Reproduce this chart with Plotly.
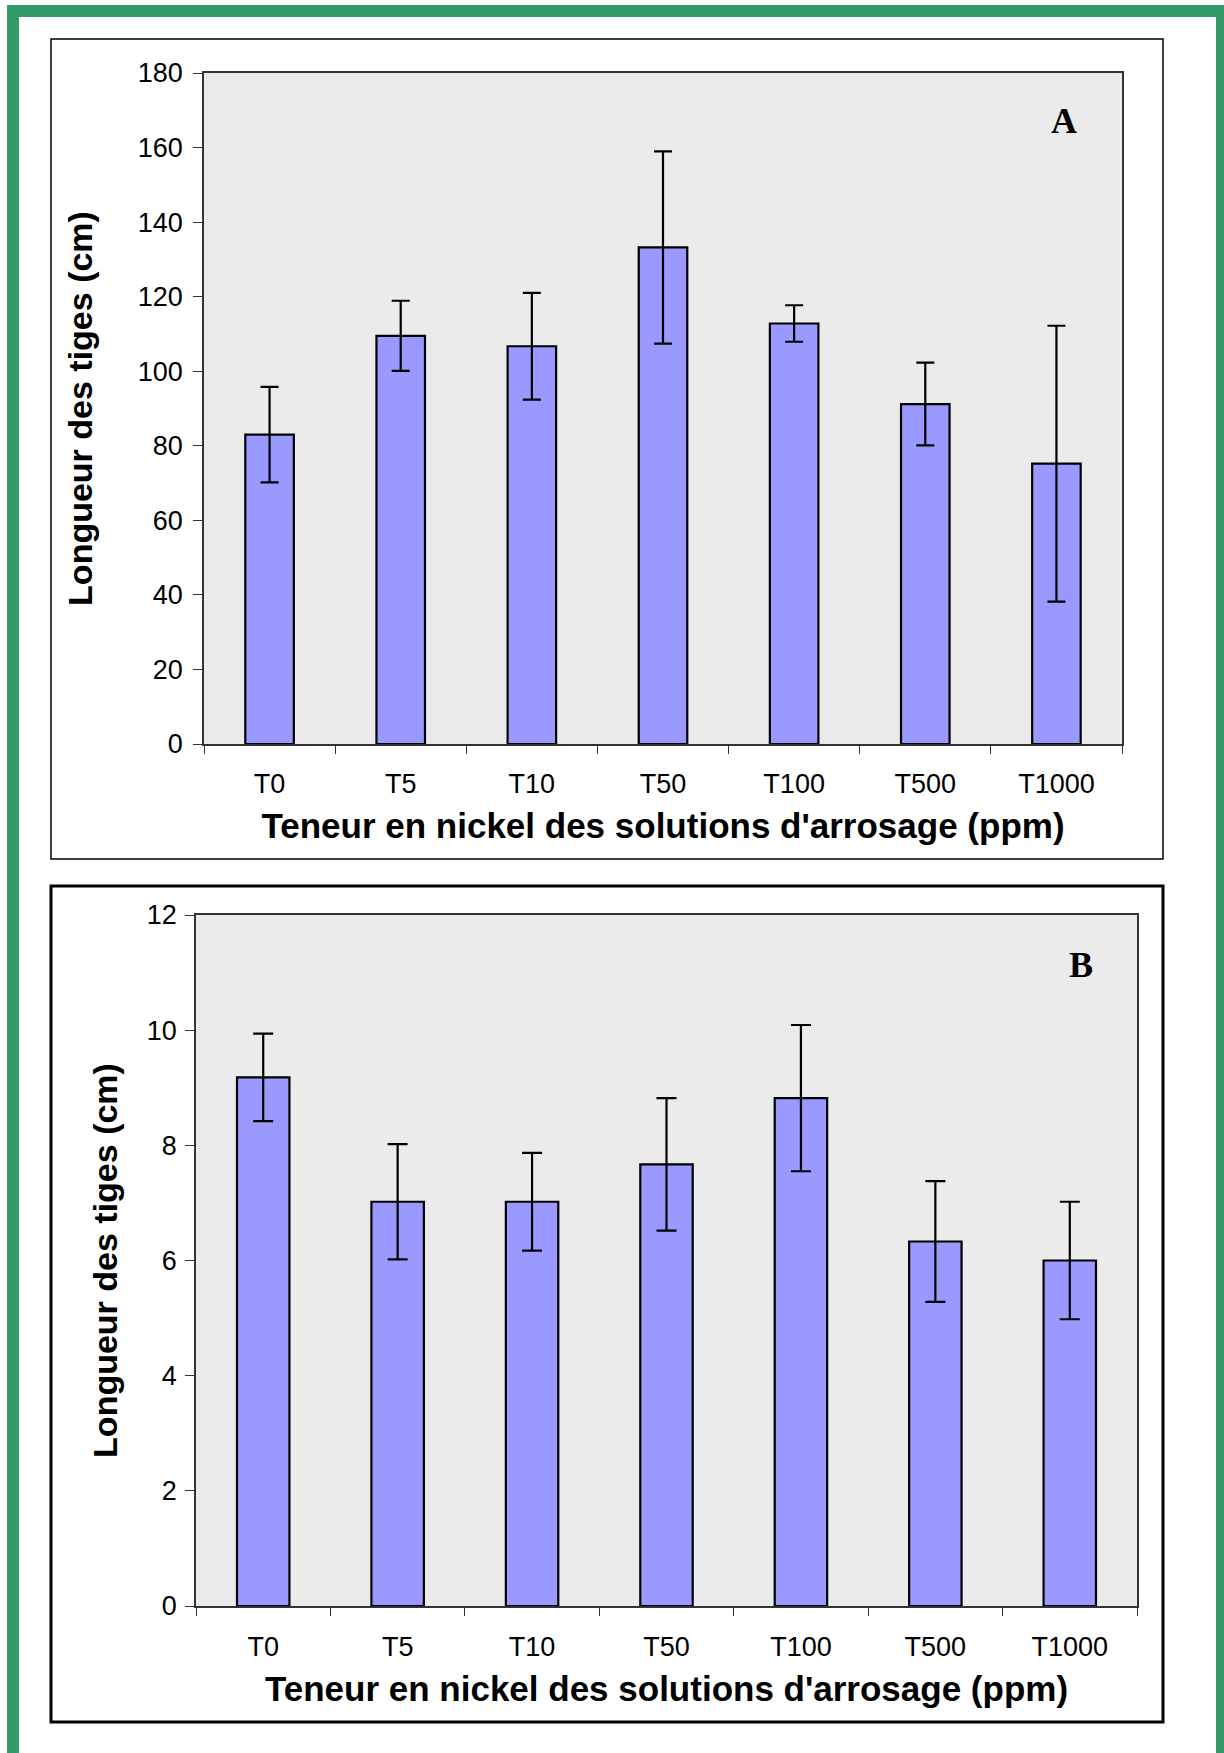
import plotly.graph_objects as go

W, H = 1224, 1753

categories = ["T0", "T5", "T10", "T50", "T100", "T500", "T1000"]
stem_A = [83.0, 109.5, 106.7, 133.2, 112.8, 91.2, 75.2]
err_A = [12.8, 9.4, 14.3, 25.8, 4.9, 11.1, 37.0]
stem_B = [9.18, 7.02, 7.02, 7.67, 8.82, 6.33, 6.00]
err_B = [0.76, 1.00, 0.85, 1.15, 1.27, 1.05, 1.02]
yticks_A = [0, 20, 40, 60, 80, 100, 120, 140, 160, 180]
yticks_B = [0, 2, 4, 6, 8, 10, 12]
x_title = "Teneur en nickel des solutions d'arrosage (ppm)"
y_title = "Longueur des tiges (cm)"

BAR = "#9999FF"
FONT = "Liberation Sans"


def px(x):
    return x / W


def py(y):
    return 1 - y / H


fig = go.Figure()
fig.add_trace(go.Bar(
    x=categories, y=stem_A, xaxis="x", yaxis="y", width=0.37,
    marker=dict(color=BAR, line=dict(color="black", width=2.2)),
    error_y=dict(type="data", array=err_A, visible=True, color="black", thickness=2.2, width=9),
    showlegend=False))
fig.add_trace(go.Bar(
    x=categories, y=stem_B, xaxis="x2", yaxis="y2", width=0.39,
    marker=dict(color=BAR, line=dict(color="black", width=2.2)),
    error_y=dict(type="data", array=err_B, visible=True, color="black", thickness=2.2, width=10),
    showlegend=False))

xcommon = dict(showline=True, linecolor="#333333", linewidth=1.5, mirror=True,
               ticks="outside", tickson="boundaries", ticklen=8, tickcolor="#333333",
               tickfont=dict(family=FONT, size=27, color="black"), showgrid=False,
               automargin=False)
ycommon = dict(showline=True, linecolor="#333333", linewidth=1.5, mirror=True,
               ticks="outside", ticklen=9, tickcolor="#333333",
               tickfont=dict(family=FONT, size=27, color="black"), showgrid=False,
               zeroline=False, automargin=False)

fig.update_layout(
    template="none",
    width=W, height=H, margin=dict(l=0, r=0, t=0, b=0, pad=0, autoexpand=False),
    paper_bgcolor="white", plot_bgcolor="#ebebeb",
    xaxis=dict(domain=[px(204), px(1122)], anchor="y", ticklabelstandoff=15,
               title=dict(text="<b>" + x_title + "</b>", standoff=15,
                          font=dict(family=FONT, size=35, color="black")),
               **xcommon),
    yaxis=dict(domain=[py(744), py(73)], anchor="x", range=[0, 180],
               tickvals=yticks_A, ticklabelstandoff=5,
               title=dict(text="<b>" + y_title + "</b>", standoff=35,
                          font=dict(family=FONT, size=34, color="black")),
               **ycommon),
    xaxis2=dict(domain=[px(196), px(1137)], anchor="y2", ticklabelstandoff=16,
                title=dict(text="<b>" + x_title + "</b>", standoff=15,
                           font=dict(family=FONT, size=35, color="black")),
                **xcommon),
    yaxis2=dict(domain=[py(1606), py(915)], anchor="x2", range=[0, 12],
                tickvals=yticks_B, ticklabelstandoff=3,
                title=dict(text="<b>" + y_title + "</b>", standoff=19,
                           font=dict(family=FONT, size=34, color="black")),
                **ycommon),
    shapes=[
        dict(type="rect", xref="paper", yref="paper",
             x0=px(13), x1=px(1222), y0=py(1765), y1=py(11),
             line=dict(color="#339966", width=12), layer="below"),
        dict(type="rect", xref="paper", yref="paper",
             x0=px(51), x1=px(1163), y0=py(859), y1=py(39),
             line=dict(color="black", width=1.5), layer="below"),
        dict(type="rect", xref="paper", yref="paper",
             x0=px(51), x1=px(1163), y0=py(1722), y1=py(886),
             line=dict(color="black", width=3), layer="below"),
    ],
    annotations=[
        dict(text="<b>A</b>", xref="paper", yref="paper", x=px(1064), y=py(121),
             xanchor="center", yanchor="middle", showarrow=False,
             font=dict(family="Liberation Serif", size=36, color="black")),
        dict(text="<b>B</b>", xref="paper", yref="paper", x=px(1081), y=py(965),
             xanchor="center", yanchor="middle", showarrow=False,
             font=dict(family="Liberation Serif", size=36, color="black")),
    ],
)

fig.write_html("out.html", config={"displayModeBar": False},
               post_script="document.body.style.margin='0';")
